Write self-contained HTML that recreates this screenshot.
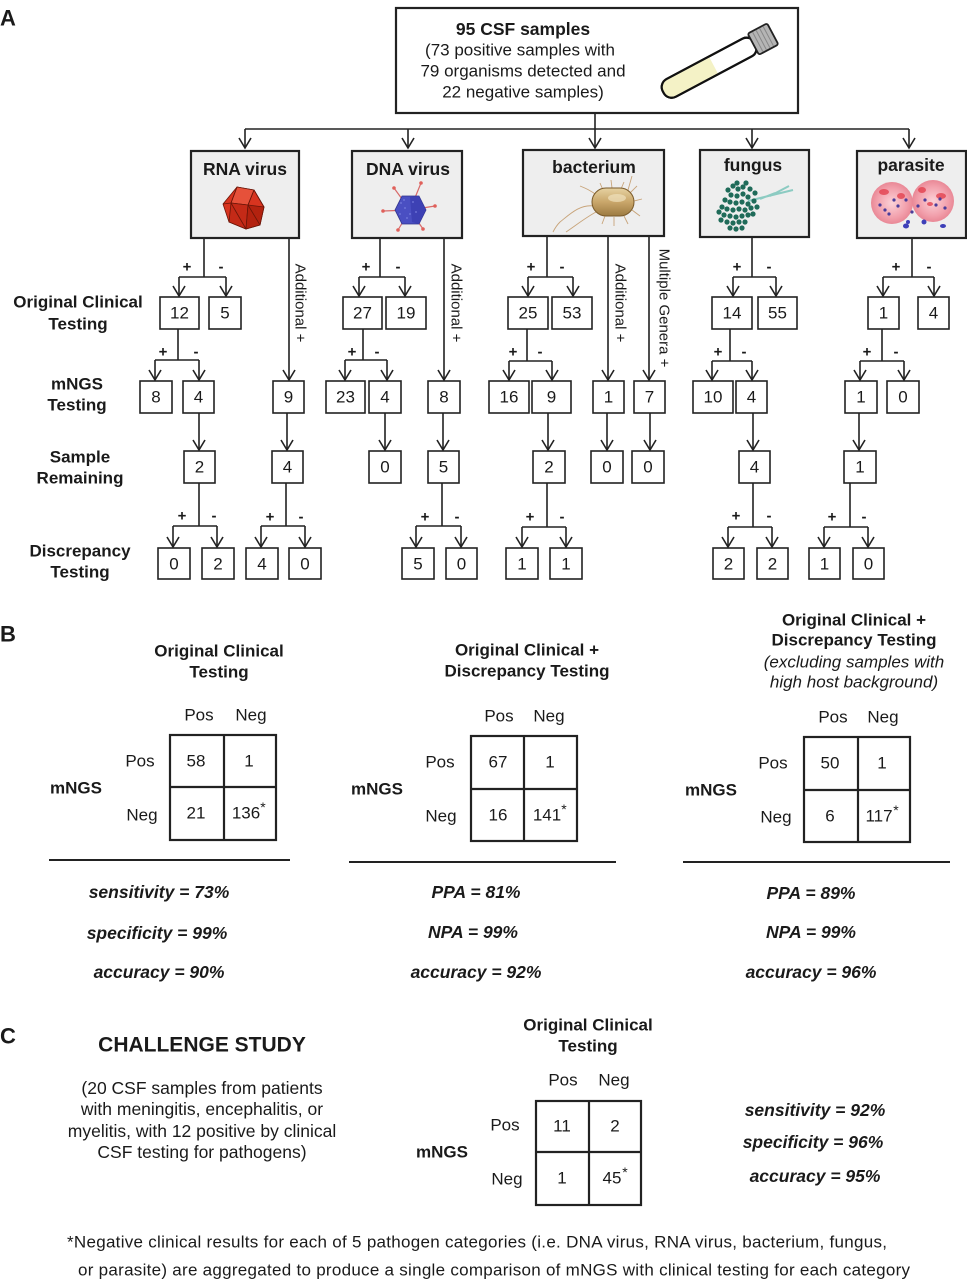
<!DOCTYPE html>
<html><head><meta charset="utf-8"><style>
html,body{margin:0;padding:0;background:#fff;}
svg{display:block;}
text{font-family:"Liberation Sans",Arial,sans-serif;fill:#1a1a1a;dominant-baseline:central;}
.n{font-size:17px;text-anchor:middle;}
.b{font-weight:bold;}
.t{font-size:17.5px;font-weight:bold;text-anchor:middle;}
.pm{font-size:15px;font-weight:bold;text-anchor:middle;}
.lab{font-size:17px;font-weight:bold;text-anchor:middle;}
.st{font-size:17.5px;font-weight:bold;font-style:italic;text-anchor:middle;}
.r{font-size:15px;text-anchor:middle;}
.ln{fill:none;stroke:#222;stroke-width:1.6;}
.bx{fill:#fff;stroke:#222;stroke-width:1.6;}
.cb{fill:#eeeeee;stroke:#222;stroke-width:2.2;}
.mx{fill:#fff;stroke:#222;stroke-width:2.2;}
</style></head><body>
<svg width="967" height="1280" viewBox="0 0 967 1280" xmlns="http://www.w3.org/2000/svg">
<defs>
<path id="ah" d="M-6,-10 L0,0 L6,-10" fill="none" stroke="#222" stroke-width="1.6"/>
<linearGradient id="bac" x1="0" y1="0" x2="0" y2="1"><stop offset="0" stop-color="#e6d2a2"/><stop offset="0.5" stop-color="#c9a66a"/><stop offset="1" stop-color="#9c7a40"/></linearGradient>
<radialGradient id="par" cx="0.5" cy="0.5" r="0.5"><stop offset="0" stop-color="#fbd2d8"/><stop offset="0.7" stop-color="#f2a0ac"/><stop offset="1" stop-color="#e98896"/></radialGradient>
</defs>

<!-- Labels A B C -->
<text x="0" y="18" class="b" style="font-size:22px">A</text>
<text x="0" y="634" class="b" style="font-size:22px">B</text>
<text x="0" y="1036" class="b" style="font-size:22px">C</text>

<!-- Top box -->
<rect x="396" y="8" width="402" height="105" fill="#fff" stroke="#222" stroke-width="2.2"/>
<text x="523" y="29" class="t">95 CSF samples</text>
<text x="520" y="50" class="n">(73 positive samples with</text>
<text x="523" y="71" class="n">79 organisms detected and</text>
<text x="523" y="92" class="n">22 negative samples)</text>
<!-- tube -->
<g transform="translate(718,63) rotate(-28)">
<rect x="-62" y="-10" width="104" height="20" rx="9" fill="#fff" stroke="#111" stroke-width="2.2"/>
<path d="M-53,-9 H-5 V9 H-53 A9,9 0 0 1 -53,-9 Z" fill="#f4f2c6"/>
<rect x="-62" y="-10" width="104" height="20" rx="9" fill="none" stroke="#111" stroke-width="2.2"/>
<rect x="40" y="-12" width="22" height="24" rx="2" fill="#b5b5b5" stroke="#222" stroke-width="1.8"/>
<path d="M45,-11 V11 M49,-11 V11 M53,-11 V11 M57,-11 V11" stroke="#888" stroke-width="1"/>
</g>

<!-- top connectors -->
<path class="ln" d="M595,113 V129 M245,129 H909 M245,129 V148 M408,129 V148 M595,129 V148 M752,129 V148 M909,129 V148"/>
<use href="#ah" x="245" y="148"/><use href="#ah" x="408" y="148"/><use href="#ah" x="595" y="148"/><use href="#ah" x="752" y="148"/><use href="#ah" x="909" y="148"/>

<!-- Category boxes -->
<rect class="cb" x="191" y="151" width="108" height="87"/>
<rect class="cb" x="352" y="151" width="110" height="87"/>
<rect class="cb" x="523" y="150" width="141" height="86"/>
<rect class="cb" x="700" y="150" width="109" height="87"/>
<rect class="cb" x="857" y="151" width="109" height="87"/>
<text x="245" y="169" class="t">RNA virus</text>
<text x="408" y="169" class="t">DNA virus</text>
<text x="594" y="167" class="t">bacterium</text>
<text x="753" y="165" class="t">fungus</text>
<text x="911" y="165" class="t">parasite</text>

<!-- RNA icon -->
<g stroke="#6a1508" stroke-width="0.8" stroke-linejoin="round">
<polygon points="237,187 254,190 264,207 260,225 246,229 229,222 223,204" fill="#d8341f"/>
<polygon points="237,187 254,190 248,205 231,203" fill="#e6513a"/>
<polygon points="231,203 248,205 246,229 229,222" fill="#c42a17"/>
<polygon points="248,205 264,207 260,225 246,229" fill="#b3220f"/>
<path d="M223,204 L231,203 M254,190 L264,207 M237,187 L231,203 M248,205 L254,190 M231,203 L246,229 M248,205 L260,225" fill="none"/>
</g>

<!-- DNA icon -->
<g stroke="#d86a6a" stroke-width="1.2">
<path d="M410,210 L394,188 M410,210 L421,183 M410,210 L435,206 M410,210 L423,229 M410,210 L398,230 M410,210 L383,211"/>
</g>
<g fill="#e0605a"><circle cx="394" cy="188" r="1.8"/><circle cx="421" cy="183" r="1.8"/><circle cx="435" cy="206" r="1.8"/><circle cx="423" cy="229" r="1.8"/><circle cx="398" cy="230" r="1.8"/><circle cx="383" cy="211" r="1.8"/></g>
<polygon points="402,196 419,196 426,210 419,224 402,224 395,210" fill="#4a4fc2" stroke="#30328a" stroke-width="0.8"/>
<polygon points="410,197 419,196 426,210 419,224 412,222" fill="#3a3db0" opacity="0.8"/>
<g fill="#7a80e0" opacity="0.7"><circle cx="401" cy="203" r="1"/><circle cx="405" cy="208" r="1"/><circle cx="400" cy="214" r="1"/><circle cx="407" cy="218" r="1"/><circle cx="413" cy="202" r="1"/><circle cx="416" cy="212" r="1"/><circle cx="404" cy="200" r="1"/><circle cx="410" cy="214" r="1"/></g>

<!-- bacterium icon -->
<g fill="none" stroke="#c8a47a" stroke-width="0.9">
<path d="M594,206 C580,204 570,214 560,222 C556,226 554,230 553,232"/>
<path d="M596,212 C585,218 575,226 566,232"/>
<path d="M598,196 C590,190 585,188 580,186"/>
<path d="M603,190 L600,183 M612,188 L611,180 M621,189 L624,182 M630,193 L637,186 M634,201 L642,199 M632,210 L640,216 M624,216 L628,224 M614,217 L614,226 M605,216 L602,224 M628,190 L632,176"/>
</g>
<rect x="592" y="188" width="42" height="28" rx="14" fill="url(#bac)" stroke="#7a5a2a" stroke-width="1"/>
<ellipse cx="617" cy="198" rx="9" ry="4" fill="#efe1bd" opacity="0.7"/>

<!-- fungus icon -->
<path d="M748,201 L793,190 M770,196 L789,186 M760,199 L775,193" stroke="#8ccbc2" stroke-width="2" fill="none"/>
<g fill="#1f6b59">
<circle cx="728" cy="190" r="2.6"/><circle cx="733" cy="186" r="2.6"/><circle cx="738" cy="189" r="2.6"/><circle cx="743" cy="187" r="2.6"/><circle cx="731" cy="195" r="2.6"/><circle cx="737" cy="196" r="2.6"/><circle cx="743" cy="194" r="2.6"/><circle cx="748" cy="197" r="2.6"/><circle cx="725" cy="200" r="2.6"/><circle cx="730" cy="202" r="2.6"/><circle cx="736" cy="203" r="2.6"/><circle cx="742" cy="202" r="2.6"/><circle cx="748" cy="204" r="2.6"/><circle cx="754" cy="201" r="2.6"/><circle cx="722" cy="207" r="2.6"/><circle cx="727" cy="209" r="2.6"/><circle cx="733" cy="210" r="2.6"/><circle cx="739" cy="209" r="2.6"/><circle cx="745" cy="210" r="2.6"/><circle cx="751" cy="208" r="2.6"/><circle cx="724" cy="215" r="2.6"/><circle cx="730" cy="216" r="2.6"/><circle cx="736" cy="217" r="2.6"/><circle cx="742" cy="216" r="2.6"/><circle cx="748" cy="215" r="2.6"/><circle cx="727" cy="222" r="2.6"/><circle cx="733" cy="223" r="2.6"/><circle cx="739" cy="222" r="2.6"/><circle cx="745" cy="222" r="2.6"/><circle cx="730" cy="228" r="2.6"/><circle cx="736" cy="229" r="2.6"/><circle cx="742" cy="228" r="2.6"/><circle cx="750" cy="189" r="2.6"/><circle cx="755" cy="193" r="2.6"/><circle cx="719" cy="212" r="2.6"/><circle cx="757" cy="207" r="2.6"/><circle cx="753" cy="214" r="2.6"/><circle cx="721" cy="220" r="2.6"/><circle cx="737" cy="183" r="2.6"/><circle cx="746" cy="183" r="2.6"/>
</g>

<!-- parasite icon -->
<circle cx="892" cy="203" r="21" fill="url(#par)"/>
<circle cx="933" cy="201" r="21" fill="url(#par)"/>
<g fill="#e23a48" opacity="0.75"><ellipse cx="884" cy="192" rx="5" ry="3"/><ellipse cx="901" cy="196" rx="4" ry="3"/><ellipse cx="922" cy="190" rx="4" ry="3"/><ellipse cx="941" cy="196" rx="5" ry="3"/><ellipse cx="930" cy="204" rx="3" ry="2"/></g>
<g fill="#4b3d9a"><circle cx="880" cy="205" r="1.6"/><circle cx="885" cy="210" r="1.6"/><circle cx="894" cy="200" r="1.6"/><circle cx="898" cy="206" r="1.6"/><circle cx="906" cy="200" r="1.6"/><circle cx="918" cy="206" r="1.6"/><circle cx="925" cy="200" r="1.6"/><circle cx="936" cy="205" r="1.6"/><circle cx="940" cy="199" r="1.6"/><circle cx="945" cy="208" r="1.6"/><circle cx="889" cy="214" r="1.6"/><circle cx="912" cy="212" r="1.6"/></g>
<g fill="#3d3fb8"><ellipse cx="906" cy="226" rx="3" ry="2.5"/><ellipse cx="924" cy="222" rx="2.5" ry="2.5"/><ellipse cx="943" cy="226" rx="3" ry="2"/><ellipse cx="908" cy="222" rx="2" ry="2"/></g>

<!-- Row labels -->
<text x="78" y="302" class="lab">Original Clinical</text>
<text x="78" y="324" class="lab">Testing</text>
<text x="77" y="384" class="lab">mNGS</text>
<text x="77" y="405" class="lab">Testing</text>
<text x="80" y="457" class="lab">Sample</text>
<text x="80" y="478" class="lab">Remaining</text>
<text x="80" y="551" class="lab">Discrepancy</text>
<text x="80" y="572" class="lab">Testing</text>

<!-- ===== RNA virus tree ===== -->
<path class="ln" d="M204,238 V277 M179,277 H226 M179,277 V296 M226,277 V296"/>
<use href="#ah" x="179" y="296"/><use href="#ah" x="226" y="296"/>
<text x="187" y="267" class="pm">+</text><text x="221" y="267" class="pm">-</text>
<rect class="bx" x="160" y="297" width="39" height="32"/><text x="179.5" y="313" class="n">12</text>
<rect class="bx" x="209" y="297" width="32" height="32"/><text x="225" y="313" class="n">5</text>
<path class="ln" d="M178,329 V360 M155,360 H199 M155,360 V380 M199,360 V380"/>
<use href="#ah" x="155" y="380"/><use href="#ah" x="199" y="380"/>
<text x="163" y="352" class="pm">+</text><text x="196" y="352" class="pm">-</text>
<rect class="bx" x="140" y="381" width="32" height="32"/><text x="156" y="397" class="n">8</text>
<rect class="bx" x="183" y="381" width="31" height="32"/><text x="198.5" y="397" class="n">4</text>
<path class="ln" d="M199,413 V450"/><use href="#ah" x="199" y="450"/>
<rect class="bx" x="184" y="451" width="31" height="32"/><text x="199.5" y="467" class="n">2</text>
<path class="ln" d="M199,483 V526 M173,526 H217 M173,526 V547 M217,526 V547"/>
<use href="#ah" x="173" y="547"/><use href="#ah" x="217" y="547"/>
<text x="182" y="516" class="pm">+</text><text x="214" y="516" class="pm">-</text>
<rect class="bx" x="158" y="548" width="32" height="31"/><text x="174" y="564" class="n">0</text>
<rect class="bx" x="202" y="548" width="32" height="31"/><text x="218" y="564" class="n">2</text>
<path class="ln" d="M289,238 V380"/><use href="#ah" x="289" y="380"/>
<text class="r" transform="translate(300,303) rotate(90)">Additional +</text>
<rect class="bx" x="273" y="381" width="31" height="32"/><text x="288.5" y="397" class="n">9</text>
<path class="ln" d="M287,413 V450"/><use href="#ah" x="287" y="450"/>
<rect class="bx" x="272" y="451" width="31" height="32"/><text x="287.5" y="467" class="n">4</text>
<path class="ln" d="M286,483 V526 M261,526 H305 M261,526 V547 M305,526 V547"/>
<use href="#ah" x="261" y="547"/><use href="#ah" x="305" y="547"/>
<text x="270" y="517" class="pm">+</text><text x="301" y="517" class="pm">-</text>
<rect class="bx" x="246" y="548" width="32" height="31"/><text x="262" y="564" class="n">4</text>
<rect class="bx" x="289" y="548" width="32" height="31"/><text x="305" y="564" class="n">0</text>

<!-- ===== DNA virus tree ===== -->
<path class="ln" d="M380,238 V277 M359,277 H405 M359,277 V296 M405,277 V296"/>
<use href="#ah" x="359" y="296"/><use href="#ah" x="405" y="296"/>
<text x="366" y="267" class="pm">+</text><text x="398" y="267" class="pm">-</text>
<rect class="bx" x="343" y="297" width="39" height="32"/><text x="362.5" y="313" class="n">27</text>
<rect class="bx" x="386" y="297" width="40" height="32"/><text x="406" y="313" class="n">19</text>
<path class="ln" d="M363,329 V360 M345,360 H387 M345,360 V380 M387,360 V380"/>
<use href="#ah" x="345" y="380"/><use href="#ah" x="387" y="380"/>
<text x="352" y="352" class="pm">+</text><text x="377" y="352" class="pm">-</text>
<rect class="bx" x="326" y="381" width="39" height="32"/><text x="345.5" y="397" class="n">23</text>
<rect class="bx" x="369" y="381" width="32" height="32"/><text x="385" y="397" class="n">4</text>
<path class="ln" d="M385,413 V450"/><use href="#ah" x="385" y="450"/>
<rect class="bx" x="369" y="451" width="32" height="32"/><text x="385" y="467" class="n">0</text>
<path class="ln" d="M444,238 V380"/><use href="#ah" x="444" y="380"/>
<text class="r" transform="translate(456,303) rotate(90)">Additional +</text>
<rect class="bx" x="428" y="381" width="32" height="32"/><text x="444" y="397" class="n">8</text>
<path class="ln" d="M443,413 V450"/><use href="#ah" x="443" y="450"/>
<rect class="bx" x="428" y="451" width="31" height="32"/><text x="443.5" y="467" class="n">5</text>
<path class="ln" d="M442,483 V526 M416,526 H461 M416,526 V547 M461,526 V547"/>
<use href="#ah" x="416" y="547"/><use href="#ah" x="461" y="547"/>
<text x="425" y="517" class="pm">+</text><text x="457" y="517" class="pm">-</text>
<rect class="bx" x="402" y="548" width="32" height="31"/><text x="418" y="564" class="n">5</text>
<rect class="bx" x="446" y="548" width="31" height="31"/><text x="461.5" y="564" class="n">0</text>

<!-- ===== bacterium tree ===== -->
<path class="ln" d="M547,236 V277 M528,277 H573 M528,277 V296 M573,277 V296"/>
<use href="#ah" x="528" y="296"/><use href="#ah" x="573" y="296"/>
<text x="531" y="267" class="pm">+</text><text x="562" y="267" class="pm">-</text>
<rect class="bx" x="508" y="297" width="40" height="32"/><text x="528" y="313" class="n">25</text>
<rect class="bx" x="552" y="297" width="40" height="32"/><text x="572" y="313" class="n">53</text>
<path class="ln" d="M527,329 V361 M509,361 H552 M509,361 V380 M552,361 V380"/>
<use href="#ah" x="509" y="380"/><use href="#ah" x="552" y="380"/>
<text x="513" y="352" class="pm">+</text><text x="540" y="352" class="pm">-</text>
<rect class="bx" x="489" y="381" width="40" height="32"/><text x="509" y="397" class="n">16</text>
<rect class="bx" x="532" y="381" width="39" height="32"/><text x="551.5" y="397" class="n">9</text>
<path class="ln" d="M548,413 V450"/><use href="#ah" x="548" y="450"/>
<rect class="bx" x="533" y="451" width="32" height="32"/><text x="549" y="467" class="n">2</text>
<path class="ln" d="M547,483 V527 M522,527 H566 M522,527 V547 M566,527 V547"/>
<use href="#ah" x="522" y="547"/><use href="#ah" x="566" y="547"/>
<text x="530" y="517" class="pm">+</text><text x="562" y="517" class="pm">-</text>
<rect class="bx" x="506" y="548" width="32" height="31"/><text x="522" y="564" class="n">1</text>
<rect class="bx" x="550" y="548" width="32" height="31"/><text x="566" y="564" class="n">1</text>
<path class="ln" d="M608,236 V380"/><use href="#ah" x="608" y="380"/>
<text class="r" transform="translate(620,303) rotate(90)">Additional +</text>
<rect class="bx" x="593" y="381" width="31" height="32"/><text x="608.5" y="397" class="n">1</text>
<path class="ln" d="M607,413 V450"/><use href="#ah" x="607" y="450"/>
<rect class="bx" x="591" y="451" width="32" height="32"/><text x="607" y="467" class="n">0</text>
<path class="ln" d="M649,236 V380"/><use href="#ah" x="649" y="380"/>
<text class="r" transform="translate(664,308) rotate(90)">Multiple Genera +</text>
<rect class="bx" x="634" y="381" width="31" height="32"/><text x="649.5" y="397" class="n">7</text>
<path class="ln" d="M650,413 V450"/><use href="#ah" x="650" y="450"/>
<rect class="bx" x="632" y="451" width="32" height="32"/><text x="648" y="467" class="n">0</text>

<!-- ===== fungus tree ===== -->
<path class="ln" d="M752,237 V277 M733,277 H776 M733,277 V296 M776,277 V296"/>
<use href="#ah" x="733" y="296"/><use href="#ah" x="776" y="296"/>
<text x="737" y="267" class="pm">+</text><text x="769" y="267" class="pm">-</text>
<rect class="bx" x="712" y="297" width="40" height="32"/><text x="732" y="313" class="n">14</text>
<rect class="bx" x="758" y="297" width="39" height="32"/><text x="777.5" y="313" class="n">55</text>
<path class="ln" d="M730,329 V361 M712,361 H752 M712,361 V380 M752,361 V380"/>
<use href="#ah" x="712" y="380"/><use href="#ah" x="752" y="380"/>
<text x="718" y="352" class="pm">+</text><text x="744" y="352" class="pm">-</text>
<rect class="bx" x="693" y="381" width="40" height="32"/><text x="713" y="397" class="n">10</text>
<rect class="bx" x="736" y="381" width="31" height="32"/><text x="751.5" y="397" class="n">4</text>
<path class="ln" d="M753,413 V450"/><use href="#ah" x="753" y="450"/>
<rect class="bx" x="739" y="451" width="31" height="32"/><text x="754.5" y="467" class="n">4</text>
<path class="ln" d="M753,483 V527 M728,527 H772 M728,527 V547 M772,527 V547"/>
<use href="#ah" x="728" y="547"/><use href="#ah" x="772" y="547"/>
<text x="736" y="516" class="pm">+</text><text x="769" y="516" class="pm">-</text>
<rect class="bx" x="713" y="548" width="31" height="31"/><text x="728.5" y="564" class="n">2</text>
<rect class="bx" x="757" y="548" width="31" height="31"/><text x="772.5" y="564" class="n">2</text>

<!-- ===== parasite tree ===== -->
<path class="ln" d="M912,238 V277 M883,277 H934 M883,277 V296 M934,277 V296"/>
<use href="#ah" x="883" y="296"/><use href="#ah" x="934" y="296"/>
<text x="896" y="267" class="pm">+</text><text x="929" y="267" class="pm">-</text>
<rect class="bx" x="868" y="297" width="31" height="32"/><text x="883.5" y="313" class="n">1</text>
<rect class="bx" x="918" y="297" width="31" height="32"/><text x="933.5" y="313" class="n">4</text>
<path class="ln" d="M882,329 V361 M860,361 H904 M860,361 V380 M904,361 V380"/>
<use href="#ah" x="860" y="380"/><use href="#ah" x="904" y="380"/>
<text x="867" y="352" class="pm">+</text><text x="896" y="352" class="pm">-</text>
<rect class="bx" x="845" y="381" width="32" height="32"/><text x="861" y="397" class="n">1</text>
<rect class="bx" x="887" y="381" width="32" height="32"/><text x="903" y="397" class="n">0</text>
<path class="ln" d="M859,413 V450"/><use href="#ah" x="859" y="450"/>
<rect class="bx" x="844" y="451" width="32" height="32"/><text x="860" y="467" class="n">1</text>
<path class="ln" d="M850,483 V527 M824,527 H868 M824,527 V547 M868,527 V547"/>
<use href="#ah" x="824" y="547"/><use href="#ah" x="868" y="547"/>
<text x="832" y="517" class="pm">+</text><text x="864" y="517" class="pm">-</text>
<rect class="bx" x="809" y="548" width="31" height="31"/><text x="824.5" y="564" class="n">1</text>
<rect class="bx" x="853" y="548" width="31" height="31"/><text x="868.5" y="564" class="n">0</text>

<!-- ===== Section B ===== -->
<!-- matrix 1 -->
<text x="219" y="651" class="lab">Original Clinical</text>
<text x="219" y="672" class="lab">Testing</text>
<text x="199" y="715" class="n">Pos</text><text x="251" y="715" class="n">Neg</text>
<text x="140" y="761" class="n">Pos</text><text x="142" y="815" class="n">Neg</text>
<text x="76" y="788" class="lab">mNGS</text>
<rect class="mx" x="170" y="735" width="106" height="105"/>
<path d="M224,735 V840 M170,787 H276" stroke="#222" stroke-width="2.2"/>
<text x="196" y="761" class="n">58</text><text x="249" y="761" class="n">1</text>
<text x="196" y="813" class="n">21</text><text x="246" y="813" class="n">136</text><text x="263" y="807" style="font-size:14px;text-anchor:middle">*</text>
<path d="M49,860 H290" stroke="#222" stroke-width="2"/>
<text x="159" y="892" class="st">sensitivity = 73%</text>
<text x="157" y="933" class="st">specificity = 99%</text>
<text x="159" y="972" class="st">accuracy = 90%</text>

<!-- matrix 2 -->
<text x="527" y="650" class="lab">Original Clinical +</text>
<text x="527" y="671" class="lab">Discrepancy Testing</text>
<text x="499" y="716" class="n">Pos</text><text x="549" y="716" class="n">Neg</text>
<text x="440" y="762" class="n">Pos</text><text x="441" y="816" class="n">Neg</text>
<text x="377" y="789" class="lab">mNGS</text>
<rect class="mx" x="471" y="736" width="106" height="105"/>
<path d="M524,736 V841 M471,789 H577" stroke="#222" stroke-width="2.2"/>
<text x="498" y="762" class="n">67</text><text x="550" y="762" class="n">1</text>
<text x="498" y="815" class="n">16</text><text x="547" y="815" class="n">141</text><text x="564" y="809" style="font-size:14px;text-anchor:middle">*</text>
<path d="M349,862 H616" stroke="#222" stroke-width="2"/>
<text x="476" y="892" class="st">PPA = 81%</text>
<text x="473" y="932" class="st">NPA = 99%</text>
<text x="476" y="972" class="st">accuracy = 92%</text>

<!-- matrix 3 -->
<text x="854" y="620" class="lab">Original Clinical +</text>
<text x="854" y="640" class="lab">Discrepancy Testing</text>
<text x="854" y="662" class="n" style="font-style:italic">(excluding samples with</text>
<text x="854" y="682" class="n" style="font-style:italic">high host background)</text>
<text x="833" y="717" class="n">Pos</text><text x="883" y="717" class="n">Neg</text>
<text x="773" y="763" class="n">Pos</text><text x="776" y="817" class="n">Neg</text>
<text x="711" y="790" class="lab">mNGS</text>
<rect class="mx" x="804" y="737" width="106" height="105"/>
<path d="M858,737 V842 M804,790 H910" stroke="#222" stroke-width="2.2"/>
<text x="830" y="763" class="n">50</text><text x="882" y="763" class="n">1</text>
<text x="830" y="816" class="n">6</text><text x="879" y="816" class="n">117</text><text x="896" y="810" style="font-size:14px;text-anchor:middle">*</text>
<path d="M683,862 H950" stroke="#222" stroke-width="2"/>
<text x="811" y="893" class="st">PPA = 89%</text>
<text x="811" y="932" class="st">NPA = 99%</text>
<text x="811" y="972" class="st">accuracy = 96%</text>

<!-- ===== Section C ===== -->
<text x="202" y="1045" class="b" style="font-size:21px;text-anchor:middle">CHALLENGE STUDY</text>
<text x="202" y="1088" class="n" style="font-size:17.5px">(20 CSF samples from patients</text>
<text x="202" y="1109" class="n" style="font-size:17.5px">with meningitis, encephalitis, or</text>
<text x="202" y="1131" class="n" style="font-size:17.5px">myelitis, with 12 positive by clinical</text>
<text x="202" y="1152" class="n" style="font-size:17.5px">CSF testing for pathogens)</text>

<text x="588" y="1025" class="lab">Original Clinical</text>
<text x="588" y="1046" class="lab">Testing</text>
<text x="563" y="1080" class="n">Pos</text><text x="614" y="1080" class="n">Neg</text>
<text x="505" y="1125" class="n">Pos</text><text x="507" y="1179" class="n">Neg</text>
<text x="442" y="1152" class="lab">mNGS</text>
<rect class="mx" x="536" y="1101" width="105" height="104"/>
<path d="M589,1101 V1205 M536,1152 H641" stroke="#222" stroke-width="2.2"/>
<text x="562" y="1126" class="n">11</text><text x="615" y="1126" class="n">2</text>
<text x="562" y="1178" class="n">1</text><text x="612" y="1178" class="n">45</text><text x="625" y="1172" style="font-size:14px;text-anchor:middle">*</text>

<text x="815" y="1110" class="st">sensitivity = 92%</text>
<text x="813" y="1142" class="st">specificity = 96%</text>
<text x="815" y="1176" class="st">accuracy = 95%</text>

<text x="67" y="1242" style="font-size:17px" textLength="820" lengthAdjust="spacing">*Negative clinical results for each of 5 pathogen categories (i.e. DNA virus, RNA virus, bacterium, fungus,</text>
<text x="78" y="1270" style="font-size:17px" textLength="832" lengthAdjust="spacing">or parasite) are aggregated to produce a single comparison of mNGS with clinical testing for each category</text>
</svg>
</body></html>
